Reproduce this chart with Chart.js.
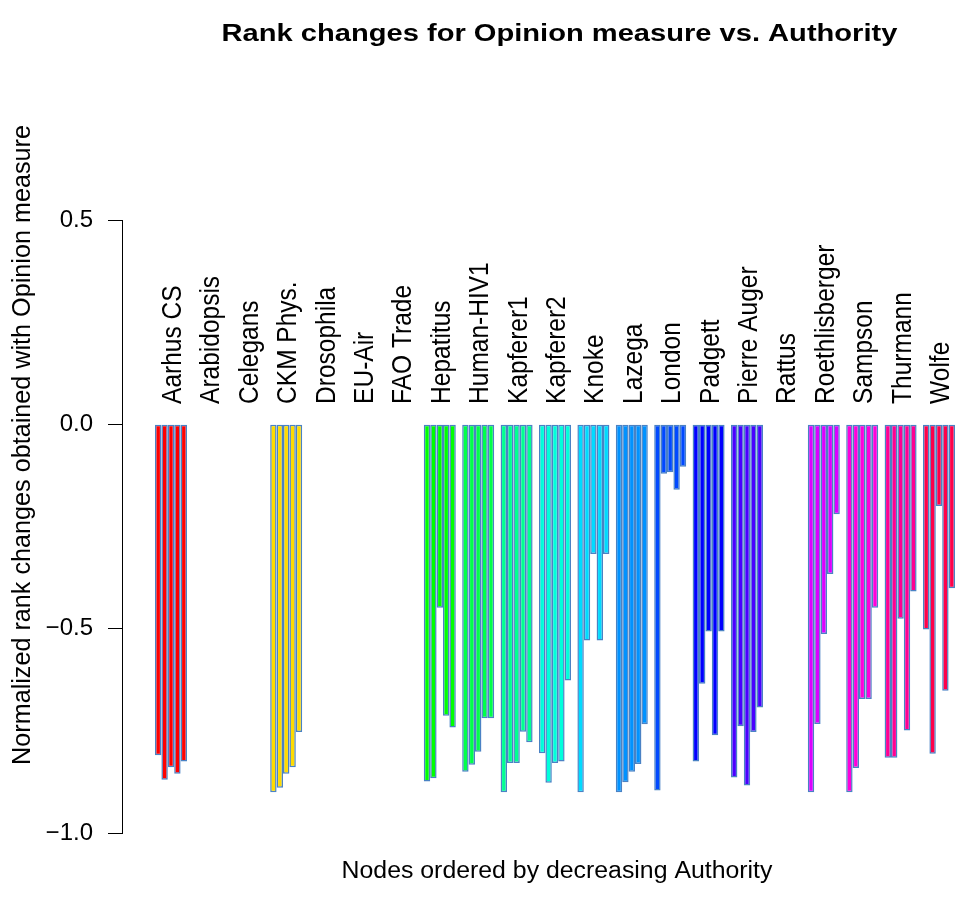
<!DOCTYPE html>
<html lang="en">
<head>
  <meta charset="UTF-8" />
  <title>Rank changes for Opinion measure vs. Authority</title>
  <style>
    body { margin: 0; background: #fff; }
    canvas { display: block; }
  </style>
</head>
<body>
  <canvas id="rankChart" width="973" height="902"></canvas>

  <script src="https://cdn.jsdelivr.net/npm/chart.js"></script>
  <script>
    // networks in the order they appear on the x axis
    const networks = ['Aarhus CS', 'Arabidopsis', 'Celegans', 'CKM Phys.', 'Drosophila', 'EU-Air',
      'FAO Trade', 'Hepatitus', 'Human-HIV1', 'Kapferer1', 'Kapferer2', 'Knoke', 'Lazega', 'London',
      'Padgett', 'Pierre Auger', 'Rattus', 'Roethlisberger', 'Sampson', 'Thurmann', 'Wolfe'];

    // rainbow(21)
    const groupColors = ['#FF0000', '#FF4900', '#FF9200', '#FFDB00', '#DBFF00', '#92FF00', '#49FF00',
      '#00FF00', '#00FF49', '#00FF92', '#00FFDB', '#00DBFF', '#0092FF', '#0049FF', '#0000FF',
      '#4900FF', '#9200FF', '#DB00FF', '#FF00DB', '#FF0092', '#FF0049'];

    // one array per bar inside a group (top nodes by Authority), null = no bar
    const node1 = [-0.81, null, null, -0.90, null, null, null, -0.874, -0.85, -0.90, -0.805, -0.90,
      -0.90, -0.896, -0.825, -0.864, null, -0.90, -0.90, -0.816, -0.502];
    const node2 = [-0.87, null, null, -0.889, null, null, null, -0.866, -0.833, -0.829, -0.877, -0.529,
      -0.876, -0.121, -0.635, -0.739, null, -0.733, -0.841, -0.816, -0.806];
    const node3 = [-0.839, null, null, -0.855, null, null, null, -0.449, -0.801, -0.829, -0.829, -0.317,
      -0.85, -0.117, -0.507, -0.884, null, -0.513, -0.672, -0.476, -0.20];
    const node4 = [-0.855, null, null, -0.839, null, null, null, -0.713, -0.719, -0.752, -0.825, -0.529,
      -0.831, -0.16, -0.761, -0.753, null, -0.366, -0.672, -0.749, -0.652];
    const node5 = [-0.825, null, null, -0.753, null, null, null, -0.742, -0.719, -0.778, -0.627, -0.317,
      -0.734, -0.104, -0.507, -0.693, null, -0.22, -0.449, -0.409, -0.401];

    const yTicks = [-1, -0.5, 0, 0.5];
    const labelY = 0.05; // network names start just above zero

    const FONT = '"Liberation Sans", Arial, Helvetica, sans-serif';

    // R output looks a bit stretched sideways, so text gets an x scale
    function drawText(ctx, text, x, y, opts) {
      ctx.save();
      ctx.font = (opts.bold ? 'bold ' : '') + opts.size + 'px ' + FONT;
      ctx.fillStyle = '#000';
      ctx.textAlign = opts.align || 'center';
      ctx.textBaseline = 'alphabetic';
      ctx.translate(x, y);
      ctx.scale(opts.sx || 1, 1);
      if (opts.rotate) ctx.rotate(opts.rotate);
      ctx.fillText(text, 0, 0);
      ctx.restore();
    }

    const textPlugin = {
      id: 'rTexts',
      afterDraw(chart) {
        const ctx = chart.ctx;
        const xs = chart.scales.x;
        const ys = chart.scales.y;

        drawText(ctx, 'Rank changes for Opinion measure vs. Authority', 559.5, 41,
          { size: 23, bold: true, sx: 1.265 });
        drawText(ctx, 'Nodes ordered by decreasing Authority', 557, 878, { size: 23, sx: 1.08 });
        drawText(ctx, 'Normalized rank changes obtained with Opinion measure', 29.5, 445,
          { size: 25.2, rotate: -Math.PI / 2 });

        // network names, rotated, above each group
        const size = 24.5, sx = 1.14;
        const y0 = ys.getPixelForValue(labelY);
        networks.forEach((name, i) => {
          const x = xs.getPixelForValue(i) + 0.36 * size * sx;
          drawText(ctx, name, x, y0, { size: size, sx: sx, rotate: -Math.PI / 2, align: 'left' });
        });
      }
    };

    const series = [node1, node2, node3, node4, node5];

    new Chart(document.getElementById('rankChart'), {
      type: 'bar',
      data: {
        datasets: series.map((vals, k) => ({
          label: 'node ' + (k + 1),
          data: vals.map((v, i) => ({ x: i, y: v })),
          backgroundColor: groupColors,
          borderColor: '#4A82C4',
          borderWidth: 1.5,
          borderSkipped: false
        }))
      },
      options: {
        responsive: false,
        animation: false,
        layout: { padding: { left: 0, right: 10, top: 220, bottom: 69 } },
        datasets: { bar: { categoryPercentage: 5 / 6, barPercentage: 1 } },
        plugins: {
          legend: { display: false },
          tooltip: { enabled: false },
          title: { display: false }
        },
        scales: {
          x: {
            type: 'linear',
            min: -1.276,
            max: 20.625,
            offset: false,
            display: false
          },
          y: {
            min: -1,
            max: 0.5,
            afterBuildTicks: s => { s.ticks = yTicks.map(v => ({ value: v })); },
            afterFit: s => { s.width = 122; },
            ticks: {
              color: '#000',
              padding: 15,
              font: { family: FONT, size: 24 },
              callback: v => v.toFixed(1).replace('-', '\u2212')
            },
            grid: { drawOnChartArea: false, tickLength: 14, color: '#000', lineWidth: 1 },
            border: { display: true, color: '#000', width: 1 }
          }
        }
      },
      plugins: [textPlugin]
    });
  </script>
</body>
</html>
